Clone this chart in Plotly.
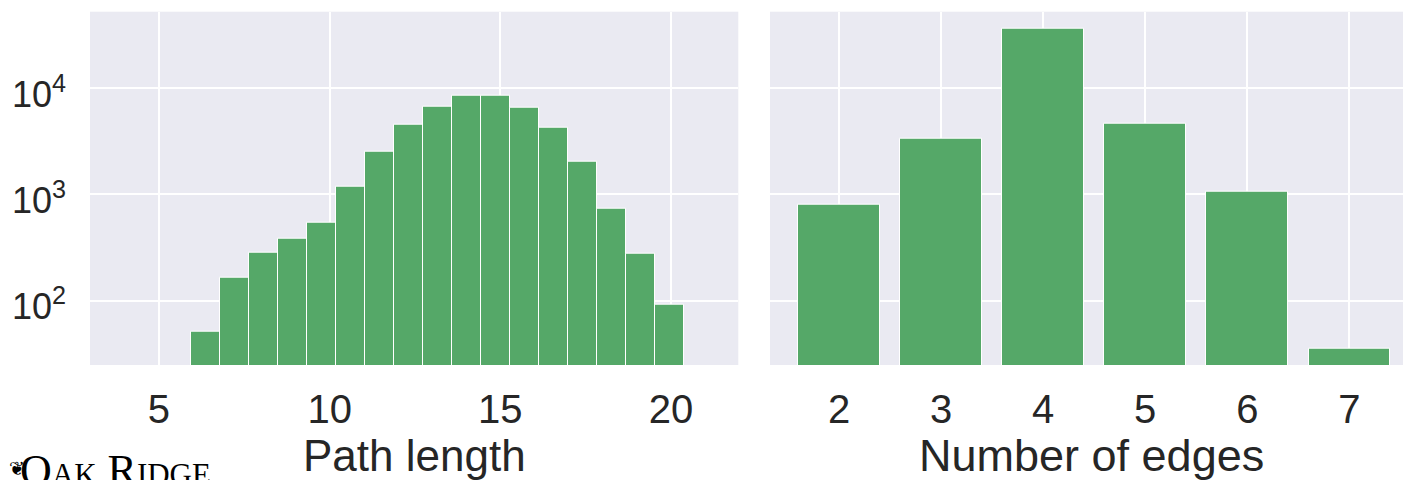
import plotly.graph_objects as go

# ---- data ----
path_bin_start = 5.95
path_bin_width = 0.849
path_counts = [51, 166, 286, 384, 543, 1184, 2512, 4511, 6668, 8590, 8550,
               6600, 4295, 2054, 730, 275, 92]

edge_categories = [2, 3, 4, 5, 6, 7]
edge_counts = [794, 3334, 36700, 4670, 1067, 35]

left_tick_vals = [5, 10, 15, 20]
y_tick_vals = [100, 1000, 10000]
y_tick_text = ["10<sup>2</sup>", "10<sup>3</sup>", "10<sup>4</sup>"]

left_title = "Path length"
right_title = "Number of edges"
logo_text = "Oak Ridge"

# ---- style ----
OFF = 8                 # page body margin
W, H = 1411 - OFF, 480 - OFF
GREEN = "#55a868"
BG = "#eaeaf2"
TXT = "#262626"
FONT = "Liberation Sans"


def px(x):
    return (x - OFF) / W


def py(y):
    return 1 - (y - OFF) / H


path_centers = [path_bin_start + path_bin_width * (i + 0.5) for i in range(len(path_counts))]

fig = go.Figure()
fig.add_trace(go.Bar(x=path_centers, y=path_counts, width=path_bin_width,
                     marker=dict(color=GREEN, line=dict(color="white", width=1)),
                     xaxis="x", yaxis="y", showlegend=False))
fig.add_trace(go.Bar(x=edge_categories, y=edge_counts, width=0.8,
                     marker=dict(color=GREEN, line=dict(color="white", width=1)),
                     xaxis="x2", yaxis="y2", showlegend=False))

ydom = [py(365), py(11.7)]
yrange = [1.3945, 4.721]
grid = dict(showgrid=True, gridcolor="white", gridwidth=1.5, zeroline=False,
            showline=False, ticks="")

fig.update_layout(
    width=W, height=H,
    margin=dict(l=0, r=0, t=0, b=0),
    paper_bgcolor="white", plot_bgcolor=BG,
    font=dict(family=FONT, color=TXT),
    bargap=0,
    xaxis=dict(domain=[px(90), px(738.3)], range=[2.98, 21.97],
               tickvals=left_tick_vals, tickfont=dict(size=40),
               ticklabelstandoff=17, **grid),
    yaxis=dict(domain=ydom, type="log", range=yrange,
               tickvals=y_tick_vals, ticktext=y_tick_text,
               tickfont=dict(size=36), ticklabelstandoff=23,
               ticklabelshift=6, **grid),
    xaxis2=dict(domain=[px(770), 1.0], range=[1.324, 7.604], anchor="y2",
                tickvals=edge_categories, tickfont=dict(size=40),
                ticklabelstandoff=17, **grid),
    yaxis2=dict(domain=ydom, type="log", range=yrange, anchor="x2",
                matches="y", tickvals=y_tick_vals, showticklabels=False, **grid),
)

fig.add_annotation(text=left_title, xref="paper", yref="paper",
                   x=px(414), y=py(455), xanchor="center", yanchor="middle",
                   showarrow=False, font=dict(size=44, color=TXT))
fig.add_annotation(text=right_title, xref="paper", yref="paper",
                   x=px(1091), y=py(455), xanchor="center", yanchor="middle",
                   showarrow=False, font=dict(size=45, color=TXT))
fig.add_annotation(text=logo_text, xref="paper", yref="paper",
                   x=px(19), y=py(445), xanchor="left", yanchor="top",
                   showarrow=False, borderpad=0,
                   font=dict(size=44, color="black", family="Liberation Serif",
                             variant="small-caps"))
fig.add_annotation(text="❦", xref="paper", yref="paper",
                   x=px(8), y=py(456), xanchor="left", yanchor="top",
                   showarrow=False, borderpad=0,
                   font=dict(size=19, color="black", family="DejaVu Sans"))

fig.write_html("out.html")
